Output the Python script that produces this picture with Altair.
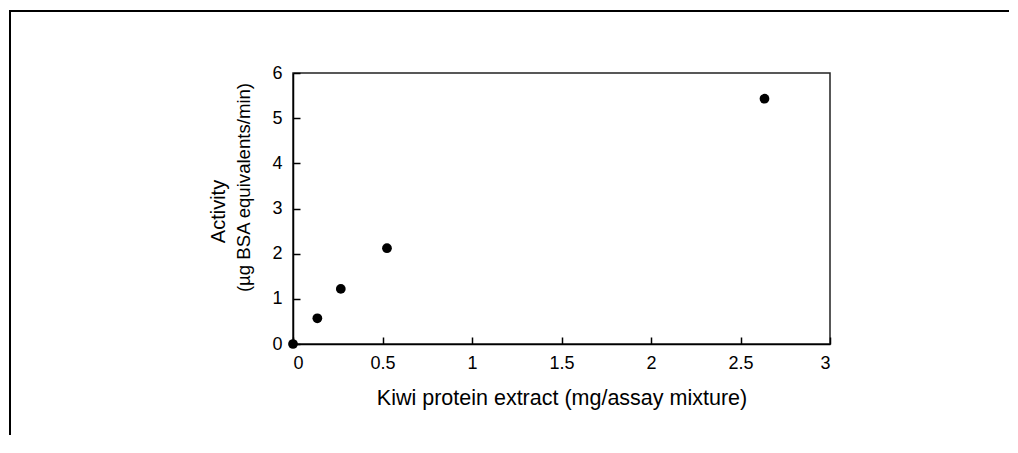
import altair as alt
import pandas as pd

# ---- data ----
extract = [0.0, 0.136, 0.267, 0.525, 2.634]          # mg / assay mixture
activity = [0.0, 0.57, 1.22, 2.12, 5.43]             # ug BSA equivalents / min
x_ticks = [0, 0.5, 1, 1.5, 2, 2.5, 3]
y_ticks = [0, 1, 2, 3, 4, 5, 6]
x_title = "Kiwi protein extract (mg/assay mixture)"
y_title_1 = "Activity"
y_title_2 = "(µg BSA equivalents/min)"

df = pd.DataFrame({"extract": extract, "activity": activity})

W, H = 537, 271
FONT = "Liberation Sans"

xs = alt.Scale(domain=[0, 3], nice=False, zero=True)
ys = alt.Scale(domain=[0, 6], nice=False, zero=True)

base = alt.Chart(df)

points = base.mark_circle(size=95, color="black", opacity=1).encode(
    x=alt.X("extract:Q", scale=xs,
            axis=alt.Axis(orient="bottom", values=x_ticks, ticks=False, format="~g",
                          labelPadding=10, title=x_title, titleFontSize=21.5,
                          titlePadding=15)),
    y=alt.Y("activity:Q", scale=ys,
            axis=alt.Axis(orient="left", values=y_ticks, ticks=False, format="~g",
                          labelPadding=11, title=y_title_2, titleFontSize=18.6,
                          titleX=-44, titleY=114, titleBaseline="alphabetic")),
)

# inward-pointing ticks: axes moved onto the opposite edges
inner_ticks = base.mark_circle(opacity=0).encode(
    x=alt.X("extract:Q", scale=xs,
            axis=alt.Axis(orient="top", offset=-H, values=x_ticks, labels=False,
                          domain=False, ticks=True, tickSize=7, title=None)),
    y=alt.Y("activity:Q", scale=ys,
            axis=alt.Axis(orient="right", offset=-W, values=y_ticks, labels=False,
                          domain=False, ticks=True, tickSize=7, title=None)),
)

first_line = base.mark_circle(opacity=0).encode(
    x=alt.X("extract:Q", scale=xs, axis=None),
    y=alt.Y("activity:Q", scale=ys,
            axis=alt.Axis(orient="left", labels=False, ticks=False, domain=False,
                          title=y_title_1, titleFontSize=20, titleX=-69, titleY=138,
                          titleBaseline="alphabetic")),
)

frame_data = alt.Data(values=[{}])
top_line = alt.Chart(frame_data).mark_rule(color="black", strokeWidth=2).encode(
    x=alt.value(-284), x2=alt.value(716), y=alt.value(-62)
)
left_line = alt.Chart(frame_data).mark_rule(color="black", strokeWidth=2).encode(
    x=alt.value(-283), y=alt.value(-63), y2=alt.value(362)
)

chart = (
    alt.layer(points, inner_ticks, first_line, top_line, left_line)
    .resolve_axis(x="independent", y="independent")
    .properties(width=W, height=H,
                padding={"left": 0, "top": 1, "right": 0, "bottom": 0},
                background="white")
    .configure_view(stroke="#222222", strokeWidth=1.5)
    .configure_axis(labelFont=FONT, titleFont=FONT, labelColor="black",
                    titleColor="black", titleFontWeight="normal", labelFontSize=18,
                    domainColor="black", domainWidth=1.5, tickColor="black",
                    tickWidth=1.5, grid=False)
)

chart.save("out.html", embed_options={"renderer": "svg", "actions": False})
